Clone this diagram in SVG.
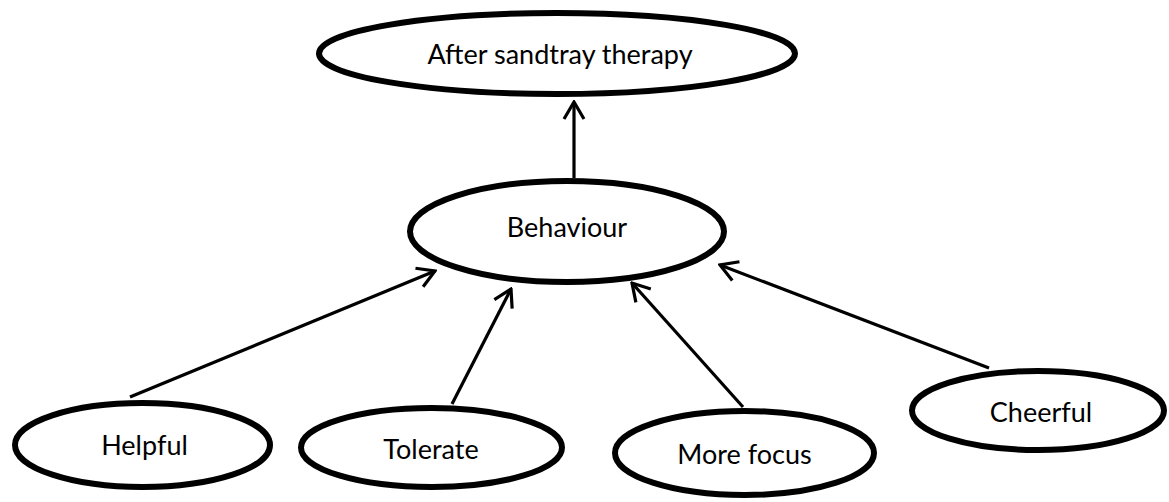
<svg xmlns="http://www.w3.org/2000/svg" width="1169" height="502" viewBox="0 0 1169 502">
<style>
.node ellipse{fill:#fff;stroke:#000;stroke-width:6}
.node text{font-family:Lato,"Liberation Sans",sans-serif;font-size:27px;fill:#000;text-anchor:middle}
.conn line{stroke:#000;stroke-width:3.2;marker-end:url(#arr)}
</style>
<defs>
<marker id="arr" viewBox="0 0 22 24" refX="20" refY="12" markerWidth="22" markerHeight="24" markerUnits="userSpaceOnUse" orient="auto">
<path d="M3,2 L20,12 L3,22" fill="none" stroke="#000" stroke-width="3.2" stroke-linejoin="miter"/>
</marker>
</defs>
<g id="n-after" class="node"><ellipse cx="557" cy="53.5" rx="238" ry="40.5"/><text x="560" y="64">After sandtray therapy</text></g>
<g id="n-behaviour" class="node"><ellipse cx="567" cy="231.5" rx="157" ry="50.5"/><text x="567" y="237">Behaviour</text></g>
<g id="n-helpful" class="node"><ellipse cx="142.5" cy="445" rx="127.5" ry="42"/><text x="144.5" y="455">Helpful</text></g>
<g id="n-tolerate" class="node"><ellipse cx="431.5" cy="447.5" rx="130.5" ry="39.5"/><text x="431" y="459">Tolerate</text></g>
<g id="n-focus" class="node"><ellipse cx="744.5" cy="453" rx="129.5" ry="42"/><text x="744.5" y="464">More focus</text></g>
<g id="n-cheerful" class="node"><ellipse cx="1038" cy="410.5" rx="126" ry="39.5"/><text x="1041" y="422">Cheerful</text></g>
<g id="connectors" class="conn">
<line x1="574" y1="178" x2="574" y2="102"/>
<line x1="130" y1="397" x2="435" y2="271"/>
<line x1="452" y1="404" x2="511" y2="289"/>
<line x1="743" y1="407" x2="632" y2="283"/>
<line x1="989" y1="368" x2="720" y2="265"/>
</g>
</svg>
